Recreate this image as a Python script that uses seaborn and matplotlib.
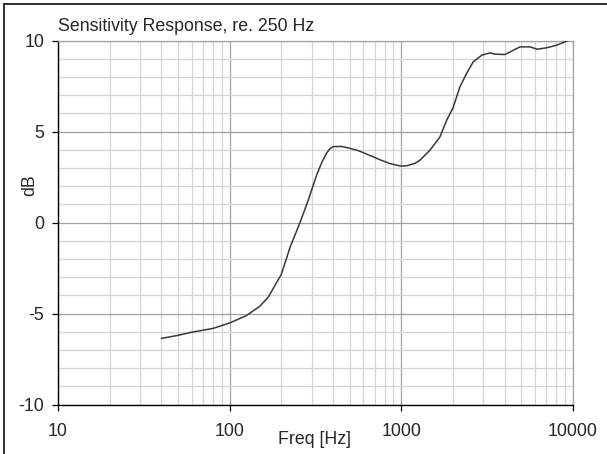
import matplotlib
matplotlib.use("Agg")
import matplotlib.pyplot as plt
import matplotlib.ticker as mticker
from matplotlib.lines import Line2D
import seaborn as sns
import pandas as pd

# --- DATA ---
freq_hz = [40, 50, 60, 80, 100, 125, 150, 168, 200, 225, 257, 287, 321, 344,
           367, 384, 401, 449, 500, 561, 702, 750, 850, 980, 1070, 1200, 1282,
           1467, 1679, 1837, 2000, 2193, 2399, 2624, 2937, 3283, 3510, 4010,
           4295, 4910, 5611, 6194, 7022, 8030, 9380]
sens_db = [-6.37, -6.2, -6.03, -5.82, -5.52, -5.12, -4.6, -4.09, -2.85, -1.35,
           0.0, 1.23, 2.6, 3.3, 3.82, 4.05, 4.17, 4.18, 4.08, 3.95, 3.57, 3.45,
           3.25, 3.11, 3.11, 3.25, 3.42, 3.97, 4.7, 5.62, 6.3, 7.45, 8.19, 8.83,
           9.19, 9.32, 9.25, 9.23, 9.37, 9.65, 9.65, 9.52, 9.6, 9.74, 10.0]
x_ticks = [10, 100, 1000, 10000]
x_tick_labels = ["10", "100", "1000", "10000"]
y_ticks = [-10, -5, 0, 5, 10]

TITLE = "Sensitivity Response, re. 250 Hz"
X_LABEL = "Freq [Hz]"
Y_LABEL = "dB"

W, H = 607, 454
MAJOR_GRID = "#a0a0a0"
MINOR_GRID = "#d4d4d4"

sns.set_style("white")
plt.rcParams["font.family"] = ["Liberation Sans", "DejaVu Sans"]
plt.rcParams["axes.unicode_minus"] = False
FS = 12.8

df = pd.DataFrame({"freq": freq_hz, "db": sens_db})

fig = plt.figure(figsize=(W / 100, H / 100), dpi=100)
ax = fig.add_axes([58 / W, 1 - 404.5 / H, (573 - 58) / W, (404.5 - 40.5) / H])

sns.lineplot(data=df, x="freq", y="db", ax=ax, color="#383838", linewidth=1.1, zorder=5)

ax.set_xscale("log")
ax.set_xlim(10, 10000)
ax.set_ylim(-10, 10)

ax.set_xticks(x_ticks)
ax.set_xticklabels(x_tick_labels)
ax.xaxis.set_minor_locator(mticker.LogLocator(base=10, subs=range(2, 10)))
ax.xaxis.set_minor_formatter(mticker.NullFormatter())
ax.set_yticks(y_ticks)
ax.yaxis.set_minor_locator(mticker.MultipleLocator(1))

ax.grid(which="major", color=MAJOR_GRID, linewidth=0.9)
ax.grid(which="minor", color=MINOR_GRID, linewidth=0.9)
ax.set_axisbelow(True)

ax.tick_params(which="major", direction="out", length=4, width=0.9, color="black",
               labelsize=FS, pad=6, left=True, bottom=True)
ax.tick_params(axis="x", pad=9)
ax.tick_params(which="minor", length=0)

for side in ["top", "right"]:
    ax.spines[side].set_color(MAJOR_GRID)
    ax.spines[side].set_linewidth(0.9)
for side in ["left", "bottom"]:
    ax.spines[side].set_color("black")
    ax.spines[side].set_linewidth(1.0)

ax.set_xlabel(X_LABEL, fontsize=FS)
ax.set_ylabel(Y_LABEL, fontsize=FS)
ax.xaxis.set_label_coords((314 - 58) / 515, (404.5 - 431) / 364)
ax.yaxis.set_label_coords((38 - 58) / 515, (404.5 - 185) / 364)

fig.text(58 / W, 1 - 31 / H, TITLE, fontsize=FS, ha="left", va="baseline")

# outer frame (only top and left edges visible in the reference)
fig.add_artist(Line2D([3.5 / W, 3.5 / W], [0, 1 - 3.5 / H], transform=fig.transFigure,
                      color="#202020", linewidth=1.3))
fig.add_artist(Line2D([3.5 / W, 1], [1 - 3.5 / H, 1 - 3.5 / H], transform=fig.transFigure,
                      color="#202020", linewidth=1.3))

fig.savefig("out.png", dpi=100)
